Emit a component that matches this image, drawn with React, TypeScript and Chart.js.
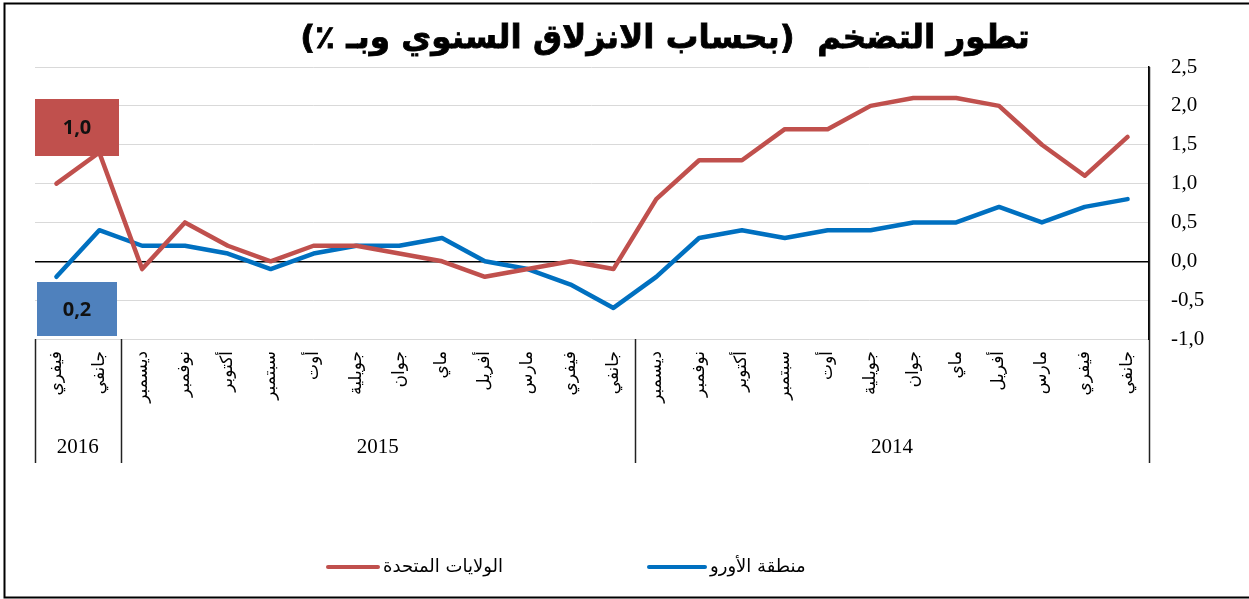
import React, { useEffect, useRef } from 'react';
import { Chart, registerables } from 'chart.js';

Chart.register(...registerables);

const titleText = 'تطور التضخم  (بحساب الانزلاق السنوي وبـ ٪)';

const monthLabels = [
  'فيفري', 'جانفي',
  'ديسمبر', 'نوفمبر', 'أكتوبر', 'سبتمبر', 'أوت', 'جويلية', 'جوان', 'ماي', 'أفريل', 'مارس', 'فيفري', 'جانفي',
  'ديسمبر', 'نوفمبر', 'أكتوبر', 'سبتمبر', 'أوت', 'جويلية', 'جوان', 'ماي', 'أفريل', 'مارس', 'فيفري', 'جانفي',
];
const yearLabels = ['2016', '2015', '2014'];
const yearMonthCounts = [2, 12, 12];

const usInflation = [1.0, 1.4, -0.1, 0.5, 0.2, 0.0, 0.2, 0.2, 0.1, 0.0, -0.2, -0.1, 0.0, -0.1, 0.8, 1.3, 1.3, 1.7, 1.7, 2.0, 2.1, 2.1, 2.0, 1.5, 1.1, 1.6];
const euroInflation = [-0.2, 0.4, 0.2, 0.2, 0.1, -0.1, 0.1, 0.2, 0.2, 0.3, 0.0, -0.1, -0.3, -0.6, -0.2, 0.3, 0.4, 0.3, 0.4, 0.4, 0.5, 0.5, 0.7, 0.5, 0.7, 0.8];

const seriesNames = ['الولايات المتحدة', 'منطقة الأورو'];
const yTickValues = [-1.0, -0.5, 0.0, 0.5, 1.0, 1.5, 2.0, 2.5];
const calloutLabels = ['1,0', '0,2'];

const RED = '#C0504D';
const BLUE = '#0070C0';
const ARABIC = '"DejaVu Sans", "Noto Sans", sans-serif';
const SERIF = '"Liberation Serif", "DejaVu Serif", serif';

const decorPlugin = {
  id: 'decor',
  afterDatasetsDraw(chart: any) {
    const ctx = chart.ctx;
    const boxes = [
      { l: 35, t: 99, w: 84, h: 57, fill: RED, text: calloutLabels[0] },
      { l: 37, t: 282, w: 80, h: 54, fill: '#4F81BD', text: calloutLabels[1] },
    ];
    ctx.save();
    for (const b of boxes) {
      ctx.fillStyle = b.fill;
      ctx.fillRect(b.l, b.t, b.w, b.h);
      ctx.fillStyle = '#111';
      ctx.font = 'bold 20px "Open Sans", "Liberation Sans", sans-serif';
      ctx.textAlign = 'center';
      ctx.textBaseline = 'middle';
      ctx.fillText(b.text, b.l + b.w / 2, b.t + b.h / 2 + 1);
    }
    ctx.restore();
  },
  afterDraw(chart: any) {
    const ctx = chart.ctx;
    const area = chart.chartArea;
    const xs = chart.scales.x;
    const n = monthLabels.length;
    const step = xs.getPixelForValue(1) - xs.getPixelForValue(0);
    const bound = (k: number) => (k < n ? xs.getPixelForValue(k) - step / 2 : xs.getPixelForValue(n - 1) + step / 2);
    const bottomY = 463;

    ctx.save();
    ctx.strokeStyle = '#000';
    ctx.lineWidth = 2;
    ctx.strokeRect(4.5, 3.5, 1250, 594);

    // title
    ctx.direction = 'rtl';
    ctx.fillStyle = '#000';
    ctx.textAlign = 'center';
    ctx.textBaseline = 'middle';
    let fs = 34;
    ctx.font = `bold ${fs}px ${ARABIC}`;
    const w = ctx.measureText(titleText).width;
    fs = Math.max(20, Math.min(40, fs * 730 / w));
    ctx.font = `bold ${fs}px ${ARABIC}`;
    ctx.fillText(titleText, 665, 40);
    ctx.lineWidth = 0.8;
    ctx.strokeStyle = '#000';
    ctx.strokeText(titleText, 665, 40);

    // separators
    ctx.strokeStyle = '#222';
    ctx.lineWidth = 1.5;
    let cum = 0;
    const bounds = [0];
    yearMonthCounts.forEach((c) => { cum += c; bounds.push(cum); });
    bounds.forEach((k) => {
      const x = Math.round(bound(k)) + 0.5;
      ctx.beginPath();
      ctx.moveTo(x, k === n ? area.top : area.bottom);
      ctx.lineTo(x, bottomY);
      ctx.stroke();
    });

    // month labels (rotated)
    ctx.fillStyle = '#000';
    ctx.font = `17px ${ARABIC}`;
    monthLabels.forEach((lab, i) => {
      const x = xs.getPixelForValue(i);
      ctx.save();
      ctx.translate(x, area.bottom + 12);
      ctx.rotate(-Math.PI / 2);
      ctx.textAlign = 'right';
      ctx.textBaseline = 'middle';
      ctx.direction = 'rtl';
      ctx.fillText(lab, 0, 0);
      ctx.restore();
    });

    // year labels
    ctx.direction = 'ltr';
    ctx.font = `21px ${SERIF}`;
    ctx.textAlign = 'center';
    ctx.textBaseline = 'middle';
    yearLabels.forEach((y, j) => {
      const cx = (bound(bounds[j]) + bound(bounds[j + 1])) / 2;
      ctx.fillText(y, cx, 447);
    });

    // legend
    const legend = [
      { color: RED, x0: 328, x1: 378, text: seriesNames[0] },
      { color: BLUE, x0: 649, x1: 705, text: seriesNames[1] },
    ];
    const ly = 567;
    legend.forEach((it) => {
      ctx.strokeStyle = it.color;
      ctx.lineWidth = 4;
      ctx.lineCap = 'round';
      ctx.beginPath();
      ctx.moveTo(it.x0, ly);
      ctx.lineTo(it.x1, ly);
      ctx.stroke();
      ctx.fillStyle = '#000';
      ctx.font = `18px ${ARABIC}`;
      ctx.direction = 'rtl';
      ctx.textAlign = 'left';
      ctx.textBaseline = 'middle';
      ctx.fillText(it.text, it.x1 + 5, ly);
    });
    ctx.restore();
  },
};

export default function App() {
  const ref = useRef<HTMLCanvasElement | null>(null);
  useEffect(() => {
    if (!ref.current) return;
    const chart = new Chart(ref.current, {
      type: 'line',
      data: {
        labels: monthLabels,
        datasets: [
          {
            label: seriesNames[0],
            data: usInflation,
            borderColor: RED,
            backgroundColor: RED,
            borderWidth: 4.5,
            pointRadius: 0,
            tension: 0,
            borderCapStyle: 'round',
            borderJoinStyle: 'round',
          },
          {
            label: seriesNames[1],
            data: euroInflation,
            borderColor: BLUE,
            backgroundColor: BLUE,
            borderWidth: 4.5,
            pointRadius: 0,
            tension: 0,
            borderCapStyle: 'round',
            borderJoinStyle: 'round',
          },
        ],
      },
      options: {
        animation: false,
        responsive: false,
        devicePixelRatio: 1,
        layout: { padding: { left: 35, right: 40, top: 67, bottom: 260 } },
        plugins: {
          legend: { display: false },
          title: { display: false },
          tooltip: { enabled: false },
        },
        scales: {
          x: { type: 'category', offset: true, display: false },
          y: {
            position: 'right',
            min: -1,
            max: 2.5,
            afterBuildTicks: (s: any) => {
              s.ticks = yTickValues.map((v) => ({ value: v }));
            },
            afterFit: (s: any) => {
              s.width = 60;
            },
            ticks: {
              callback: (v: any) => Number(v).toFixed(1).replace('.', ','),
              font: { family: 'Liberation Serif', size: 21 },
              color: '#000',
              padding: 22,
            },
            grid: {
              color: (c: any) => (c.tick && c.tick.value === 0 ? '#000' : '#d9d9d9'),
              lineWidth: (c: any) => (c.tick && c.tick.value === 0 ? 1.5 : 1),
              drawTicks: false,
            },
            border: { display: true, color: '#000', width: 1.5 },
          },
        },
      },
      plugins: [decorPlugin],
    } as any);
    return () => chart.destroy();
  }, []);
  return (
    <div style={{ position: 'absolute', left: 0, top: 0, width: 1249, height: 599, background: '#fff' }}>
      <canvas ref={ref} width={1249} height={599} style={{ display: 'block' }} />
    </div>
  );
}
